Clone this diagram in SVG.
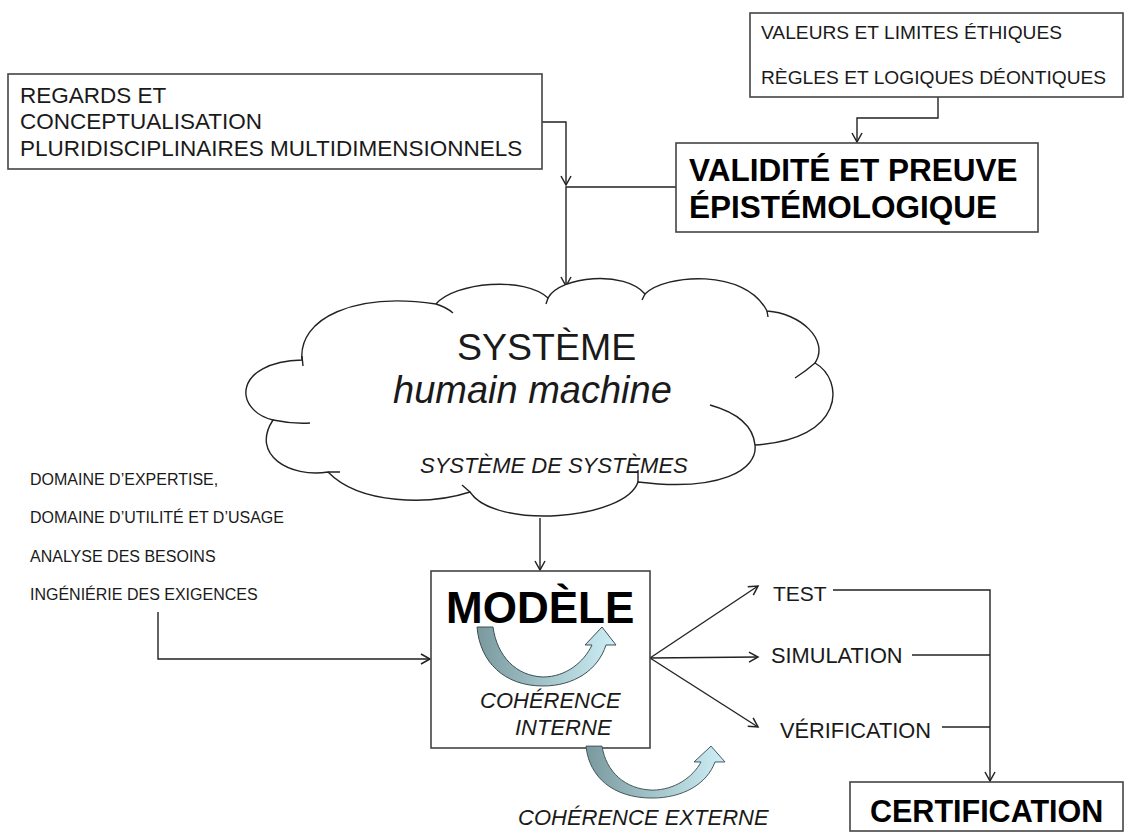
<svg xmlns="http://www.w3.org/2000/svg" width="1125" height="833" viewBox="0 0 1125 833">
<style>
  .box{fill:#fff;stroke:#444;stroke-width:1.6}
  .t{font-family:"Liberation Sans",Arial,sans-serif;fill:#1a1a1a}
  .b{font-weight:bold;fill:#000}
  .i{font-style:italic}
  .c{fill:none;stroke:#222;stroke-width:1.4}
  .cl{fill:#fff;stroke:#222;stroke-width:1.4}
  .cin{fill:none;stroke:#222;stroke-width:1.4}
  .ca{fill:url(#ga);stroke:#3d4f53;stroke-width:1}
</style>
<defs>
  <marker id="arr" markerWidth="12" markerHeight="12" refX="10" refY="6" orient="auto" markerUnits="userSpaceOnUse">
    <path d="M1,1 L10,6 L1,11" fill="none" stroke="#222" stroke-width="1.5"/>
  </marker>
  <linearGradient id="ga" x1="0" y1="0" x2="1" y2="0">
    <stop offset="0" stop-color="#7a999e"/>
    <stop offset="0.45" stop-color="#a0c1c6"/>
    <stop offset="1" stop-color="#cdeff5"/>
  </linearGradient>
  <path id="carrow" d="M477,627 L493,627 C497,656 516,676 543,677 C566,677 584,662 592,645 L585,645 L602,627 L616,645 L606,645 C598,670 574,686 543,686 C504,686 480,662 477,627 Z"/>
</defs>
<rect width="1125" height="833" fill="#fff"/>

<g id="connectors">
  <path class="c" d="M542,122 H566 V185" marker-end="url(#arr)"/>
  <path class="c" d="M676,187 H566 V286" marker-end="url(#arr)"/>
  <path class="c" d="M938,97 V118 H857 V142" marker-end="url(#arr)"/>
  <path class="c" d="M540,518 V570" marker-end="url(#arr)"/>
  <path class="c" d="M158,612 V659 H430" marker-end="url(#arr)"/>
  <path class="c" d="M650,658 L758,586" marker-end="url(#arr)"/>
  <path class="c" d="M650,658 L758,657" marker-end="url(#arr)"/>
  <path class="c" d="M650,658 L758,727" marker-end="url(#arr)"/>
  <path class="c" d="M833,590 H990 V781" marker-end="url(#arr)"/>
  <path class="c" d="M912,655 H990"/>
  <path class="c" d="M942,727 H990"/>
</g>

<g id="node-regards">
  <rect class="box" x="8" y="74" width="534" height="95"/>
  <text class="t" font-size="22.5" x="20" y="103">REGARDS ET</text>
  <text class="t" font-size="22.5" x="20" y="129">CONCEPTUALISATION</text>
  <text class="t" font-size="22.5" x="20" y="156">PLURIDISCIPLINAIRES MULTIDIMENSIONNELS</text>
</g>

<g id="node-valeurs">
  <rect class="box" x="750" y="13" width="373" height="84"/>
  <text class="t" font-size="19.2" x="761" y="39">VALEURS ET LIMITES ÉTHIQUES</text>
  <text class="t" font-size="19.2" x="761" y="84">RÈGLES ET LOGIQUES DÉONTIQUES</text>
</g>

<g id="node-validite">
  <rect class="box" x="676" y="143" width="362" height="89"/>
  <text class="t b" font-size="31.5" x="689" y="181">VALIDITÉ ET PREUVE</text>
  <text class="t b" font-size="31.5" x="689" y="218">ÉPISTÉMOLOGIQUE</text>
</g>

<g id="node-systeme">
  <path class="cl" d="M273,420 C233,410 233,362 302,360 C298,318 355,292 436,304 C455,282 525,276 548,298 C560,276 625,270 645,294 C665,274 745,268 767,311 C800,313 830,340 815,363 C845,380 845,440 755,445 C758,470 720,492 638,482 C625,520 495,530 470,492 C430,505 360,505 328,472 C290,478 250,455 273,420 Z"/>
  <path class="cin" d="M273,420 Q292,424 310,423 M302,356 L303,366 M436,304 Q446,307 453,313 M548,298 L546,304 M645,294 L642,300 M767,311 L768,317 M815,363 Q806,371 795,378 M755,445 C753,425 735,412 710,405 M638,482 Q638,476 638,470 M470,492 L462,485 M328,472 L340,472"/>
  <text class="t" font-size="37.5" x="457" y="360">SYSTÈME</text>
  <text class="t i" font-size="38" x="393" y="403">humain machine</text>
  <text class="t i" font-size="22" x="420" y="473">SYSTÈME DE SYSTÈMES</text>
</g>

<g id="node-domaine">
  <text class="t" font-size="16" x="30" y="485">DOMAINE D’EXPERTISE,</text>
  <text class="t" font-size="16" x="30" y="523">DOMAINE D’UTILITÉ ET D’USAGE</text>
  <text class="t" font-size="16" x="30" y="562">ANALYSE DES BESOINS</text>
  <text class="t" font-size="16" x="30" y="600">INGÉNIÉRIE DES EXIGENCES</text>
</g>

<g id="node-modele">
  <rect class="box" x="431" y="571" width="219" height="177"/>
  <text class="t b" font-size="44" x="446" y="623">MODÈLE</text>
  <use href="#carrow" class="ca"/>
  <text class="t i" font-size="22" x="480" y="708">COHÉRENCE</text>
  <text class="t i" font-size="22" x="515" y="735">INTERNE</text>
</g>

<g id="node-coherence-externe">
  <use href="#carrow" class="ca" transform="translate(109,747) scale(1,0.88) translate(0,-628)"/>
  <text class="t i" font-size="22" x="518" y="825">COHÉRENCE EXTERNE</text>
</g>

<g id="node-test">
  <text class="t" font-size="21" x="773" y="601">TEST</text>
</g>
<g id="node-simulation">
  <text class="t" font-size="21.8" x="771" y="663">SIMULATION</text>
</g>
<g id="node-verification">
  <text class="t" font-size="21.8" x="780" y="738">VÉRIFICATION</text>
</g>

<g id="node-certification">
  <rect class="box" x="850" y="782" width="273" height="49"/>
  <text class="t b" font-size="30.5" x="870" y="822">CERTIFICATION</text>
</g>
</svg>
